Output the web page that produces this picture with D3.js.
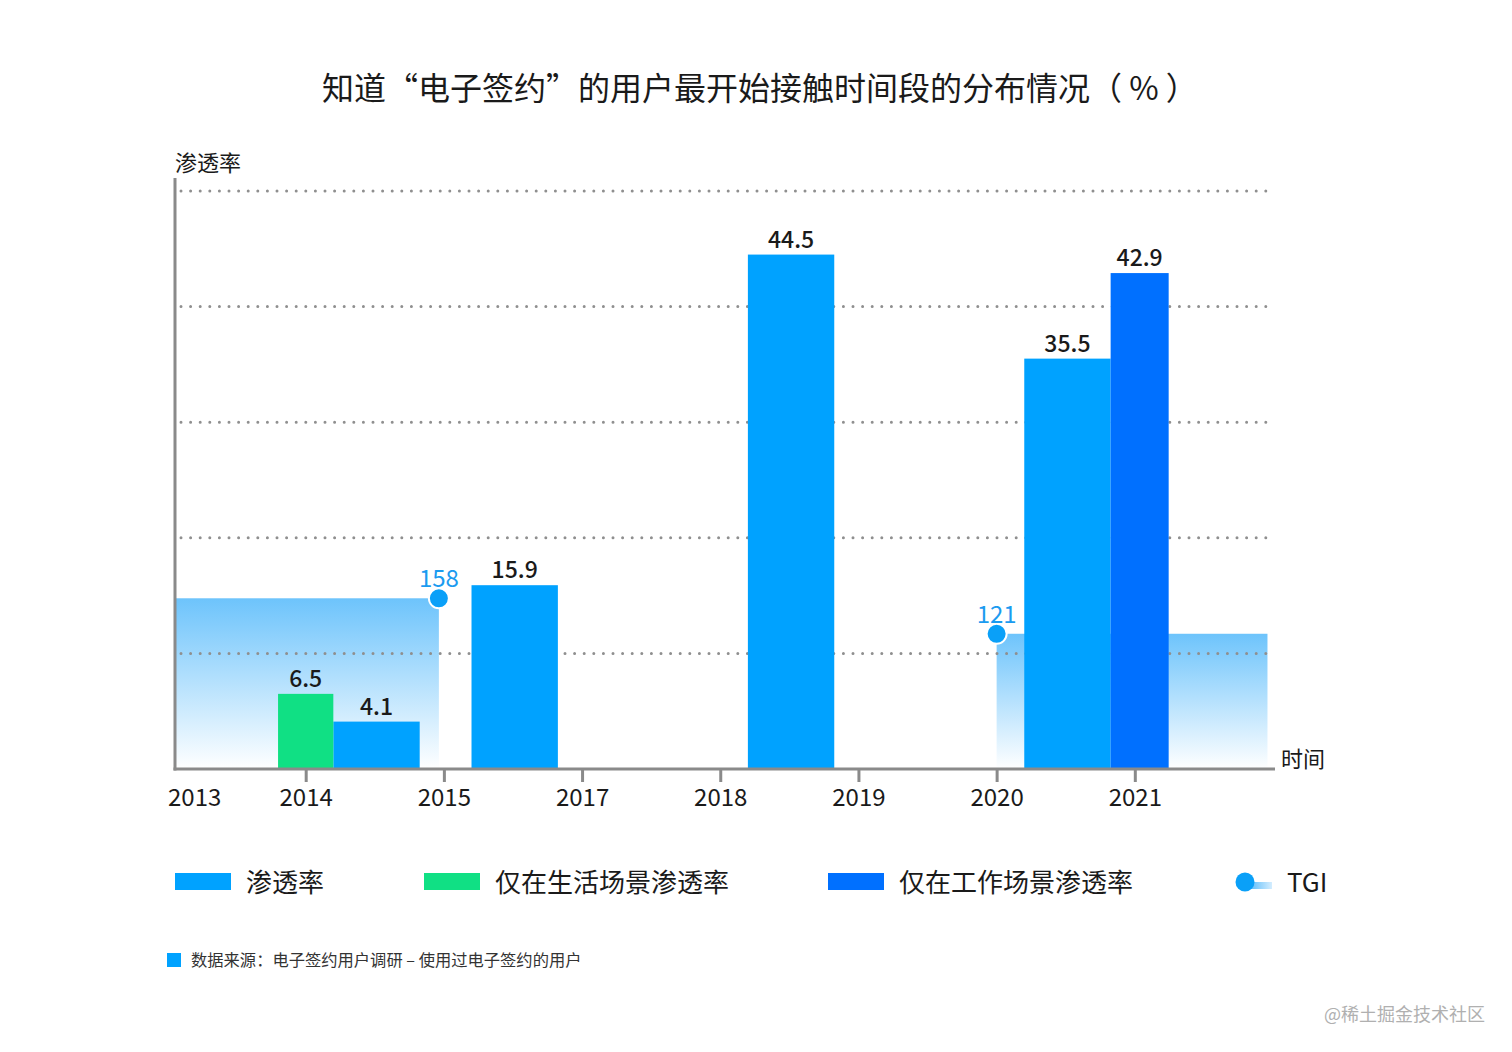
<!DOCTYPE html>
<html>
<head>
<meta charset="utf-8">
<script src="https://cdnjs.cloudflare.com/ajax/libs/d3/7.8.5/d3.min.js"></script>
<style>
    body { margin: 0; background: #fff; }
    text { font-family: "Noto Sans CJK SC", "Noto Sans", sans-serif; }
</style>
</head>
<body>
<div id="chart"></div>
<script>
// data
var years = ["2013", "2014", "2015", "2017", "2018", "2019", "2020", "2021"];
// 渗透率: the period starting at the given year
var penetration = [
    { from: "2014", value: 4.1 },
    { from: "2015", value: 15.9 },
    { from: "2018", value: 44.5 },
    { from: "2020", value: 35.5 }
];
// 仅在生活场景渗透率
var lifeOnly = [{ at: "2014", value: 6.5 }];
// 仅在工作场景渗透率
var workOnly = [{ at: "2021", value: 42.9 }];
// TGI
var tgi = [
    { from: "2013", to: "2015", value: 158, dotAt: "to" },
    { from: "2020", to: null, value: 121, dotAt: "from" }
];
var yTicks = [10, 20, 30, 40, 50];
var legendItems = ["渗透率", "仅在生活场景渗透率", "仅在工作场景渗透率", "TGI"];

var colors = {
    pen: "#00a2ff",
    life: "#10e084",
    work: "#0070ff",
    tgi: "#0aa0f8",
    tgiText: "#1b9bf0",
    axis: "#8a8a8a",
    text: "#1a1a1a"
};

makePlot();

function makePlot() {
    // STEP 1: set up the chart
    var svgWidth = 1512;
    var svgHeight = 1052;
    var plotLeft = 175;
    var plotRight = 1275;
    var baseY = 769;

    var svg = d3.select("#chart")
        .append("svg")
        .attr("width", svgWidth)
        .attr("height", svgHeight);

    var defs = svg.append("defs");
    var grad = defs.append("linearGradient")
        .attr("id", "tgiGrad")
        .attr("x1", 0).attr("y1", 0).attr("x2", 0).attr("y2", 1);
    grad.append("stop").attr("offset", "0%").attr("stop-color", "#5dbdfb").attr("stop-opacity", 0.9);
    grad.append("stop").attr("offset", "100%").attr("stop-color", "#5dbdfb").attr("stop-opacity", 0);
    var legGrad = defs.append("linearGradient")
        .attr("id", "tgiLegGrad")
        .attr("x1", 0).attr("y1", 0).attr("x2", 1).attr("y2", 0);
    legGrad.append("stop").attr("offset", "0%").attr("stop-color", "#5dbdfb");
    legGrad.append("stop").attr("offset", "100%").attr("stop-color", "#d4edfe");

    // STEP 2: scales
    var xScale = d3.scaleLinear()
        .domain([0, 8])
        .range([167.5, 1273]);
    var yScale = d3.scaleLinear()
        .domain([0, 50])
        .range([baseY, 191]);
    var tgiScale = d3.scaleLinear()
        .domain([-20, 200])
        .range([baseY, 558]);
    var idx = function(y) { return years.indexOf(y); };

    // title
    svg.append("text")
        .attr("x", 322)
        .attr("y", 100)
        .attr("font-size", 32)
        .attr("fill", colors.text)
        .text("知道“电子签约”的用户最开始接触时间段的分布情况（ % ）");

    // STEP 3: TGI areas (behind everything)
    var dotX = d => d.dotAt === "to" ? xScale(idx(d.to)) - 5 : xScale(idx(d.from));
    svg.selectAll(".tgiArea")
        .data(tgi)
        .enter()
        .append("rect")
        .attr("class", "tgiArea")
        .attr("x", d => Math.max(plotLeft, xScale(idx(d.from))))
        .attr("y", d => tgiScale(d.value))
        .attr("width", function(d) {
            var x0 = Math.max(plotLeft, xScale(idx(d.from)));
            var x1 = d.to ? dotX(d) : xScale(7.96);
            return x1 - x0;
        })
        .attr("height", d => baseY - tgiScale(d.value))
        .attr("fill", "url(#tgiGrad)");

    // gridlines
    svg.selectAll(".grid")
        .data(yTicks)
        .enter()
        .append("line")
        .attr("x1", plotLeft + 6)
        .attr("x2", plotRight)
        .attr("y1", d => yScale(d))
        .attr("y2", d => yScale(d))
        .attr("stroke", "#8f8f8f")
        .attr("stroke-width", 3)
        .attr("stroke-linecap", "round")
        .attr("stroke-dasharray", "0, 9.6");

    // STEP 4: bars
    var barOffset = 0.2;
    var barWidth = 0.625;
    svg.selectAll(".penBar")
        .data(penetration)
        .enter()
        .append("rect")
        .attr("x", d => xScale(idx(d.from) + barOffset))
        .attr("y", d => yScale(d.value))
        .attr("width", xScale(barWidth) - xScale(0))
        .attr("height", d => baseY - yScale(d.value))
        .attr("fill", colors.pen);

    svg.selectAll(".lifeBar")
        .data(lifeOnly)
        .enter()
        .append("rect")
        .attr("x", d => xScale(idx(d.at) - barOffset))
        .attr("y", d => yScale(d.value))
        .attr("width", xScale(2 * barOffset) - xScale(0))
        .attr("height", d => baseY - yScale(d.value))
        .attr("fill", colors.life);

    svg.selectAll(".workBar")
        .data(workOnly)
        .enter()
        .append("rect")
        .attr("x", d => xScale(idx(d.at) - 1 + barOffset + barWidth))
        .attr("y", d => yScale(d.value))
        .attr("width", xScale(0.42) - xScale(0))
        .attr("height", d => baseY - yScale(d.value))
        .attr("fill", colors.work);

    // value labels
    var labelData = penetration.map(d => ({ x: idx(d.from) + barOffset + barWidth / 2, v: d.value }))
        .concat(lifeOnly.map(d => ({ x: idx(d.at), v: d.value })))
        .concat(workOnly.map(d => ({ x: idx(d.at) - 1 + barOffset + barWidth + 0.21, v: d.value })));
    svg.selectAll(".valLabel")
        .data(labelData)
        .enter()
        .append("text")
        .attr("x", d => xScale(d.x))
        .attr("y", d => yScale(d.v) - 7)
        .attr("text-anchor", "middle")
        .attr("font-size", 23)
        .attr("font-weight", 500)
        .attr("fill", colors.text)
        .text(d => d.v.toFixed(1));

    // TGI dots and labels
    svg.selectAll(".tgiDot")
        .data(tgi)
        .enter()
        .append("circle")
        .attr("cx", dotX)
        .attr("cy", d => tgiScale(d.value))
        .attr("r", 10)
        .attr("fill", colors.tgi)
        .attr("stroke", "#fff")
        .attr("stroke-width", 2);
    svg.selectAll(".tgiLabel")
        .data(tgi)
        .enter()
        .append("text")
        .attr("x", dotX)
        .attr("y", d => tgiScale(d.value) - 11)
        .attr("text-anchor", "middle")
        .attr("font-size", 24)
        .attr("fill", colors.tgiText)
        .text(d => d.value);

    // STEP 5: axes
    svg.append("line")
        .attr("x1", plotLeft).attr("x2", plotLeft)
        .attr("y1", 178).attr("y2", baseY + 1.5)
        .attr("stroke", colors.axis).attr("stroke-width", 3);

    var bottomAxis = d3.axisBottom(xScale)
        .tickValues(d3.range(years.length))
        .tickFormat(i => years[i])
        .tickSize(13)
        .tickPadding(7);
    var axisG = svg.append("g")
        .attr("transform", `translate(0, ${baseY})`)
        .call(bottomAxis);
    axisG.select(".domain").remove();
    axisG.selectAll(".tick line")
        .attr("stroke", colors.axis)
        .attr("stroke-width", 3)
        .attr("opacity", (d, i) => i === 0 ? 0 : 1);
    axisG.selectAll(".tick text")
        .attr("font-size", 24)
        .attr("font-family", "Noto Sans CJK SC")
        .attr("fill", colors.text)
        .attr("text-anchor", (d, i) => i === 0 ? "start" : "middle");
    svg.append("line")
        .attr("x1", plotLeft - 1.5).attr("x2", plotRight)
        .attr("y1", baseY).attr("y2", baseY)
        .attr("stroke", colors.axis).attr("stroke-width", 3);

    svg.append("text")
        .attr("x", plotLeft)
        .attr("y", 171)
        .attr("font-size", 22)
        .attr("fill", colors.text)
        .text("渗透率");
    svg.append("text")
        .attr("x", 1281)
        .attr("y", 767)
        .attr("font-size", 22)
        .attr("fill", colors.text)
        .text("时间");

    // STEP 6: legend
    var legendX = [175, 424, 828, 1236];
    var legendColors = [colors.pen, colors.life, colors.work, null];
    var legend = svg.selectAll(".legend")
        .data(legendItems)
        .enter()
        .append("g")
        .attr("transform", (d, i) => `translate(${legendX[i]}, 882)`);
    legend.filter((d, i) => i < 3)
        .append("rect")
        .attr("x", 0).attr("y", -9)
        .attr("width", 56).attr("height", 17)
        .attr("fill", (d, i) => legendColors[i]);
    legend.filter((d, i) => i === 3)
        .append("rect")
        .attr("x", 14).attr("y", 0)
        .attr("width", 22).attr("height", 7)
        .attr("fill", "url(#tgiLegGrad)");
    legend.filter((d, i) => i === 3)
        .append("circle")
        .attr("cx", 9).attr("cy", 0).attr("r", 9.5)
        .attr("fill", colors.tgi);
    legend.append("text")
        .attr("x", (d, i) => i === 3 ? 51 : 71)
        .attr("y", 10)
        .attr("font-size", 26)
        .attr("fill", colors.text)
        .text(d => d);

    // footer
    svg.append("rect")
        .attr("x", 167).attr("y", 953)
        .attr("width", 14).attr("height", 14)
        .attr("fill", colors.pen);
    svg.append("text")
        .attr("x", 191)
        .attr("y", 966)
        .attr("font-size", 16.3)
        .attr("fill", "#333")
        .text("数据来源：电子签约用户调研 – 使用过电子签约的用户");

    // watermark
    svg.append("text")
        .attr("x", 1485)
        .attr("y", 1021)
        .attr("text-anchor", "end")
        .attr("font-size", 18)
        .attr("fill", "#b0b0b0")
        .text("@稀土掘金技术社区");
}
</script>
</body>
</html>
